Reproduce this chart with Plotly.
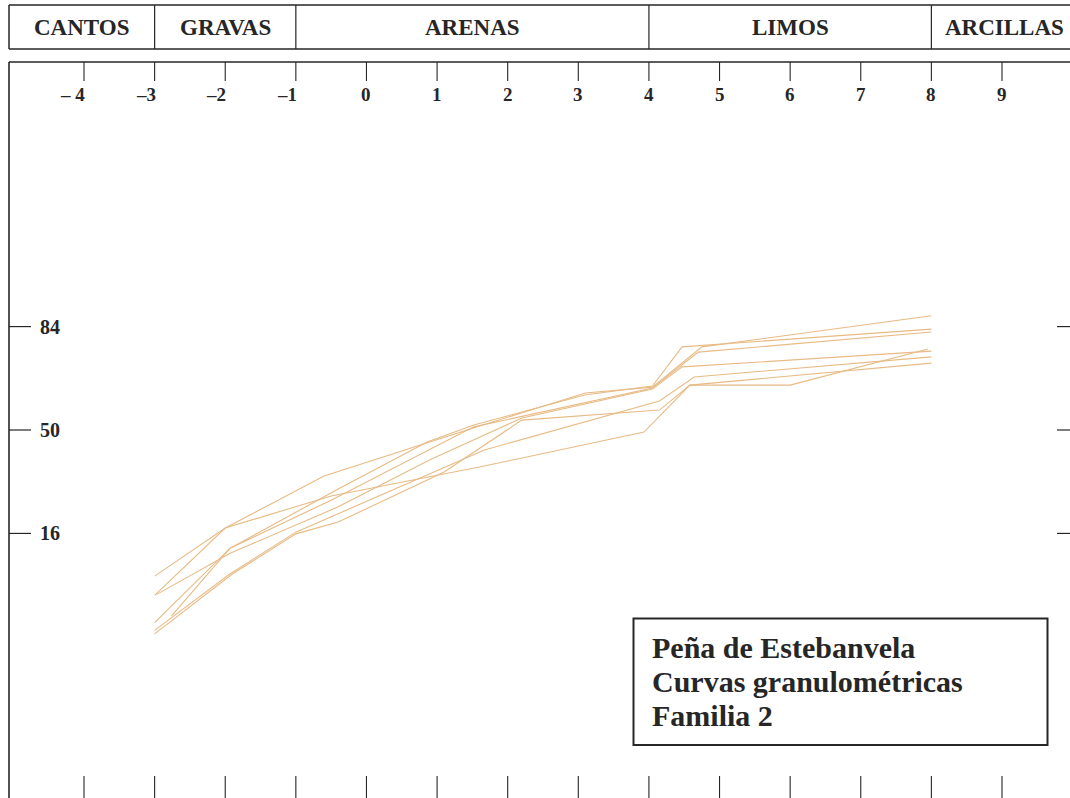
from statistics import NormalDist
import plotly.graph_objects as go

# ---------------------------------------------------------------- data
phi_ticks = [-4, -3, -2, -1, 0, 1, 2, 3, 4, 5, 6, 7, 8, 9]
phi_labels = ["– 4", "–3", "–2", "–1", "0", "1", "2", "3", "4", "5", "6", "7", "8", "9"]

class_names = ["CANTOS", "GRAVAS", "ARENAS", "LIMOS", "ARCILLAS"]
class_bounds = [-3, -1, 4, 8]          # phi limits between the size classes

prob_ticks = [84, 50, 16]              # cumulative percent marks

# cumulative curves (phi, cumulative %)
curve_1_phi = [-3, -2, -0.6, 0.45, 1.6, 3.1, 4.05, 4.75, 8]
curve_1_pct = [8.0, 17.3, 32.9, 41.6, 51.5, 63.9, 66.0, 78.8, 86.4]

curve_2_phi = [-3, -2, -0.5, 1.6, 3.93, 4.58, 6, 7.95]
curve_2_pct = [5.6, 17.3, 26.3, 36.1, 49.2, 66.7, 66.7, 78.2]

curve_3_phi = [-3, -1.95, -1, 1.67, 4.15, 4.64, 8]
curve_3_pct = [2.7, 8.2, 16.3, 42.4, 61.0, 69.5, 75.9]

curve_4_phi = [-3, -1.9, -1, -0.4, 1.1, 2.2, 4.15, 4.58, 8]
curve_4_pct = [2.5, 8.3, 15.9, 18.8, 34.3, 53.8, 57.6, 66.7, 74.0]

curve_5_phi = [-3, -1.93, -0.4, 0.86, 1.52, 3.09, 4.05, 4.47, 8]
curve_5_pct = [3.2, 12.8, 28.5, 45.4, 51.9, 63.2, 66.4, 78.8, 83.4]

curve_6_phi = [-2.76, -1.93, -0.5, 1.52, 4.05, 4.7, 8]
curve_6_pct = [3.7, 12.8, 25.0, 51.2, 65.7, 77.3, 82.7]

curve_7_phi = [-2.97, -1.93, -0.4, 0.9, 2.2, 4.05, 4.47, 8]
curve_7_pct = [5.7, 11.8, 23.0, 38.7, 54.6, 65.3, 72.8, 77.6]

curves = [
    (curve_1_phi, curve_1_pct), (curve_2_phi, curve_2_pct),
    (curve_3_phi, curve_3_pct), (curve_4_phi, curve_4_pct),
    (curve_5_phi, curve_5_pct), (curve_6_phi, curve_6_pct),
    (curve_7_phi, curve_7_pct),
]

title_lines = ["Peña de Estebanvela", "Curvas granulométricas", "Familia 2"]

# ---------------------------------------------------------------- scales
W, H = 1070, 798
PX_PER_PHI = 70.615
X_RANGE = [-4 - 84 / PX_PER_PHI, -4 + (W - 84) / PX_PER_PHI]
PX_PER_SIGMA = 104.0
Y_RANGE = [(430 - H) / PX_PER_SIGMA, 430 / PX_PER_SIGMA]

nd = NormalDist()


def probit(pct):
    return nd.inv_cdf(pct / 100.0)


def px_x(px):
    return px / W


def px_y(px):
    return 1 - px / H


def phi_at_px(px):
    return X_RANGE[0] + px / PX_PER_PHI


def bold(s):
    return "<b>" + s + "</b>"


INK = "#262626"
SERIF = "Liberation Serif, Times New Roman, serif"
LINE_COLOR = "rgb(232,186,132)"

fig = go.Figure()

for phis, pcts in curves:
    fig.add_trace(go.Scatter(
        x=phis, y=[probit(p) for p in pcts], mode="lines",
        line=dict(color=LINE_COLOR, width=1.1), hoverinfo="skip",
    ))

shapes = []
annotations = []

# size-class header band
hdr_top, hdr_bot = 5, 49
hdr_left_phi = phi_at_px(9)
hdr_right_phi = phi_at_px(1077)
shapes.append(dict(type="line", xref="paper", yref="paper", x0=px_x(9), x1=1.01,
                   y0=px_y(hdr_top), y1=px_y(hdr_top), line=dict(color=INK, width=1.5)))
shapes.append(dict(type="line", xref="paper", yref="paper", x0=px_x(9), x1=1.01,
                   y0=px_y(hdr_bot), y1=px_y(hdr_bot), line=dict(color=INK, width=1.5)))
shapes.append(dict(type="line", xref="paper", yref="paper", x0=px_x(9), x1=px_x(9),
                   y0=px_y(hdr_top), y1=px_y(hdr_bot), line=dict(color=INK, width=1.5)))
for b in class_bounds:
    shapes.append(dict(type="line", xref="x", yref="paper", x0=b, x1=b,
                       y0=px_y(hdr_top), y1=px_y(hdr_bot), line=dict(color=INK, width=1.2)))
edges = [hdr_left_phi] + class_bounds + [hdr_right_phi]
for name, a, b in zip(class_names, edges[:-1], edges[1:]):
    annotations.append(dict(x=(a + b) / 2, y=px_y(27.5), xref="x", yref="paper",
                            text=bold(name), showarrow=False, xanchor="center", yanchor="middle",
                            font=dict(family=SERIF, size=23, color=INK)))

# main frame: top and left sides
frame_top = 62
shapes.append(dict(type="line", xref="paper", yref="paper", x0=px_x(9), x1=1.01,
                   y0=px_y(frame_top), y1=px_y(frame_top), line=dict(color=INK, width=1.6)))
shapes.append(dict(type="line", xref="paper", yref="paper", x0=px_x(9), x1=px_x(9),
                   y0=px_y(frame_top), y1=-0.01, line=dict(color=INK, width=1.6)))

# phi scale: ticks hanging from the top and standing on the bottom
for v, lab in zip(phi_ticks, phi_labels):
    shapes.append(dict(type="line", xref="x", yref="paper", x0=v, x1=v,
                       y0=px_y(frame_top), y1=px_y(81), line=dict(color=INK, width=1.1)))
    shapes.append(dict(type="line", xref="x", yref="paper", x0=v, x1=v,
                       y0=px_y(776), y1=-0.01, line=dict(color=INK, width=1.1)))
    if v < 0:
        annotations.append(dict(x=v, y=px_y(94), xref="x", yref="paper", text=bold(lab),
                                showarrow=False, xanchor="right", xshift=3, yanchor="middle",
                                font=dict(family=SERIF, size=19, color=INK)))
    else:
        annotations.append(dict(x=v, y=px_y(94), xref="x", yref="paper", text=bold(lab),
                                showarrow=False, xanchor="center", yanchor="middle",
                                font=dict(family=SERIF, size=19, color=INK)))

# probability marks on both sides
for p in prob_ticks:
    z = probit(p)
    shapes.append(dict(type="line", xref="paper", yref="y", x0=px_x(9), x1=px_x(31),
                       y0=z, y1=z, line=dict(color=INK, width=1.2)))
    shapes.append(dict(type="line", xref="paper", yref="y", x0=px_x(1057), x1=1.01,
                       y0=z, y1=z, line=dict(color=INK, width=1.2)))
    annotations.append(dict(x=px_x(38), y=z, xref="paper", yref="y", text=bold(str(p)),
                            showarrow=False, xanchor="left", yanchor="middle",
                            font=dict(family=SERIF, size=20, color=INK)))

# title box
shapes.append(dict(type="rect", xref="paper", yref="paper",
                   x0=px_x(633.5), x1=px_x(1047.5), y0=px_y(745), y1=px_y(618.5),
                   line=dict(color=INK, width=2), fillcolor="white"))
for i, t in enumerate(title_lines):
    annotations.append(dict(x=px_x(650), y=px_y(647.5 + 34 * i), xref="paper", yref="paper",
                            text=bold(t), showarrow=False, xanchor="left", yanchor="middle",
                            font=dict(family=SERIF, size=30, color=INK)))

fig.update_layout(
    width=W, height=H,
    margin=dict(l=0, r=0, t=0, b=0),
    paper_bgcolor="white", plot_bgcolor="white",
    showlegend=False,
    xaxis=dict(range=X_RANGE, visible=False, fixedrange=True),
    yaxis=dict(range=Y_RANGE, visible=False, fixedrange=True),
    shapes=shapes, annotations=annotations,
)

fig.write_html("out.html")
